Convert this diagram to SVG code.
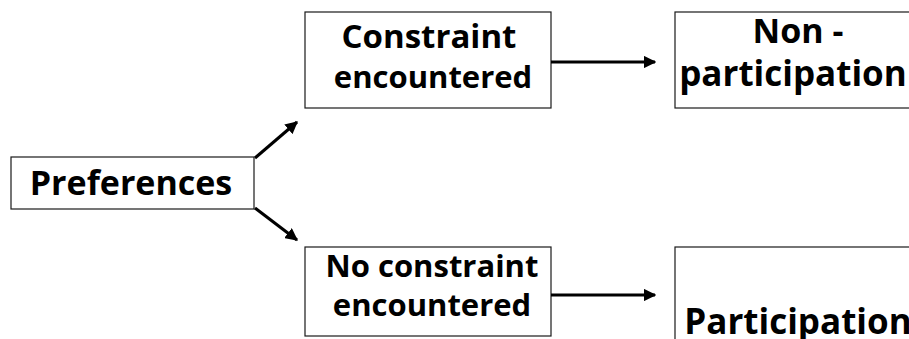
<svg xmlns="http://www.w3.org/2000/svg" width="909" height="339" viewBox="0 0 909 339">
  <style>
    .box { fill: #ffffff; stroke: #1a1a1a; stroke-width: 1.2; }
    .lbl { font-family: "Open Sans", "Liberation Sans", sans-serif; font-weight: bold; fill: #000000; text-anchor: middle; }
    .conn { stroke: #000000; stroke-width: 3; fill: none; }
  </style>
  <defs>
    <marker id="arrow" viewBox="0 0 10 10" refX="9" refY="5" markerWidth="4.2" markerHeight="4.2" orient="auto" markerUnits="strokeWidth">
      <path d="M0,0 L10,5 L0,10 z" fill="#000000"/>
    </marker>
  </defs>
  <rect width="909" height="339" fill="#ffffff"/>

  <g id="preferences">
    <rect class="box" x="11" y="157" width="243" height="52"/>
    <text class="lbl" x="131" y="195" font-size="34">Preferences</text>
  </g>

  <g id="constraint">
    <rect class="box" x="305" y="12" width="246" height="96"/>
    <text class="lbl" x="429" y="48" font-size="33">Constraint</text>
    <text class="lbl" x="433" y="88" font-size="31">encountered</text>
  </g>

  <g id="no-constraint">
    <rect class="box" x="305" y="247" width="246" height="89"/>
    <text class="lbl" x="432" y="277" font-size="31">No constraint</text>
    <text class="lbl" x="432" y="316" font-size="31">encountered</text>
  </g>

  <g id="non-participation">
    <rect class="box" x="675" y="12" width="250" height="96"/>
    <text class="lbl" x="798" y="43" font-size="34">Non -</text>
    <text class="lbl" x="793" y="86" font-size="35">participation</text>
  </g>

  <g id="participation">
    <rect class="box" x="675" y="247" width="250" height="100"/>
    <text class="lbl" x="798" y="334" font-size="35">Participation</text>
  </g>

  <g id="connectors">
    <line class="conn" x1="255" y1="158" x2="297" y2="122" marker-end="url(#arrow)"/>
    <line class="conn" x1="255" y1="208" x2="297" y2="240" marker-end="url(#arrow)"/>
    <line class="conn" x1="551" y1="62" x2="655" y2="62" marker-end="url(#arrow)"/>
    <line class="conn" x1="551" y1="295" x2="655" y2="295" marker-end="url(#arrow)"/>
  </g>
</svg>
